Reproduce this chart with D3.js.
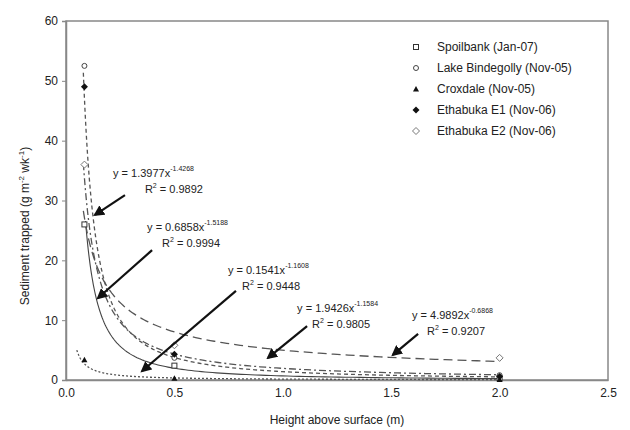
<html>
<head>
<script src="https://d3js.org/d3.v7.min.js"></script>
<style>
  body { margin: 0; background: #fff; }
  text { font-family: "Liberation Sans", Arial, sans-serif; fill: #222; }
</style>
</head>
<body>
<svg id="chart" width="630" height="430"></svg>
<script>
// data
const sites = ["Spoilbank (Jan-07)", "Lake Bindegolly (Nov-05)", "Croxdale (Nov-05)",
               "Ethabuka E1 (Nov-06)", "Ethabuka E2 (Nov-06)"];
const heights = [0.085, 0.5, 2.0];
const spoilbank = [26, 2.4, 0.3];
const lakeBindegolly = [52.5, 3.7, 0.8];
const croxdale = [3.4, 0.3, 0.1];
const ethabukaE1 = [49, 4.3, 0.6];
const ethabukaE2 = [36, 5.8, 3.7];
const seriesValues = [spoilbank, lakeBindegolly, croxdale, ethabukaE1, ethabukaE2];

// power trendlines y = a x^b as printed on the chart
const trendA = [0.6858, 1.3977, 0.1541, 1.9426, 4.9892];
const trendB = [-1.5188, -1.4268, -1.1608, -1.1584, -0.6868];
const trendR2 = ["0.9994", "0.9892", "0.9448", "0.9805", "0.9207"];
const trendStart = [0.09, 0.08, 0.05, 0.08, 0.08];
const trendEnd = 2.0;

const xTicks = [0, 0.5, 1.0, 1.5, 2.0, 2.5];
const yTicks = [0, 10, 20, 30, 40, 50, 60];

// styling per series
const markers = ["square", "circle", "triangle", "diamondFill", "diamond"];
const dashes = [null, "4,3", "2,2", "7,3,2,3", "9,5"];

// annotation layout (data coords): series index, label line 1, line 2, arrow from, arrow to
const notes = [
  {s: 1, l1: [0.217, 34.6], l2: [0.364, 31.9], from: [0.272, 30.9], to: [0.134, 27.6]},
  {s: 0, l1: [0.374, 25.6], l2: [0.443, 22.9], from: [0.397, 21.7], to: [0.148, 13.7]},
  {s: 2, l1: [0.747, 18.4], l2: [0.812, 15.7], from: [0.784, 14.9], to: [0.351, 1.5]},
  {s: 3, l1: [1.066, 12.0], l2: [1.135, 9.4], from: [1.112, 9.0], to: [0.932, 3.7]},
  {s: 4, l1: [1.596, 10.9], l2: [1.665, 8.2], from: [1.624, 7.7], to: [1.508, 4.2]}
];

const svg = d3.select("#chart");
const margin = {top: 21, right: 22, bottom: 50, left: 66};
const W = 630, H = 430;

const x = d3.scaleLinear().domain([0, 2.5]).range([margin.left, W - margin.right]);
const y = d3.scaleLinear().domain([0, 60]).range([H - margin.bottom, margin.top]);

// frame
svg.append("rect")
  .attr("x", x(0)).attr("y", y(60))
  .attr("width", x(2.5) - x(0)).attr("height", y(0) - y(60))
  .attr("fill", "none").attr("stroke", "#888").attr("stroke-width", 1.5);

// axes
const xAxis = d3.axisBottom(x).tickValues(xTicks).tickFormat(d3.format(".1f")).tickSize(0).tickPadding(8);
const yAxis = d3.axisLeft(y).tickValues(yTicks).tickSize(4).tickPadding(4);

svg.append("g").attr("transform", `translate(0,${y(0)})`).call(xAxis)
  .call(g => g.select(".domain").attr("stroke", "#888").attr("stroke-width", 1.5))
  .selectAll("text").attr("font-size", 12).attr("fill", "#333")
  .attr("font-family", "Liberation Sans, Arial, sans-serif");
svg.append("g").attr("transform", `translate(${x(0)},0)`).call(yAxis)
  .call(g => g.select(".domain").attr("stroke", "#888").attr("stroke-width", 1.5))
  .call(g => g.selectAll(".tick line").attr("stroke", "#888"))
  .selectAll("text").attr("font-size", 12).attr("fill", "#333")
  .attr("font-family", "Liberation Sans, Arial, sans-serif");

// axis titles
svg.append("text")
  .attr("x", x(1.25)).attr("y", 424)
  .attr("text-anchor", "middle").attr("font-size", 12)
  .text("Height above surface (m)");

const yl = svg.append("text")
  .attr("transform", `translate(29,226) rotate(-90)`)
  .attr("text-anchor", "middle").attr("font-size", 12);
yl.append("tspan").text("Sediment trapped (g m");
yl.append("tspan").attr("dy", -5).attr("font-size", 8).text("-2");
yl.append("tspan").attr("dy", 5).text(" wk");
yl.append("tspan").attr("dy", -5).attr("font-size", 8).text("-1");
yl.append("tspan").attr("dy", 5).text(")");

// trendlines
const line = d3.line().x(d => x(d[0])).y(d => y(d[1]));
sites.forEach((s, i) => {
  const pts = [];
  const n = 120;
  for (let k = 0; k <= n; k++) {
    // log-spaced samples so the steep part is smooth
    const xv = Math.exp(Math.log(trendStart[i]) + (Math.log(trendEnd) - Math.log(trendStart[i])) * k / n);
    pts.push([xv, trendA[i] * Math.pow(xv, trendB[i])]);
  }
  svg.append("path")
    .datum(pts)
    .attr("fill", "none")
    .attr("stroke", i === 0 ? "#444" : "#555")
    .attr("stroke-width", i === 0 ? 1.1 : 1.3)
    .attr("stroke-dasharray", dashes[i])
    .attr("d", line);
});

// markers
function drawMarker(g, type, cx, cy, r) {
  if (type === "square") {
    g.append("rect").attr("x", cx - r).attr("y", cy - r).attr("width", 2 * r).attr("height", 2 * r)
      .attr("fill", "#fff").attr("stroke", "#333").attr("stroke-width", 1);
  } else if (type === "circle") {
    g.append("circle").attr("cx", cx).attr("cy", cy).attr("r", r)
      .attr("fill", "#fff").attr("stroke", "#444").attr("stroke-width", 1);
  } else if (type === "triangle") {
    g.append("path").attr("d", `M${cx},${cy - r - 0.5}L${cx + r + 0.5},${cy + r}L${cx - r - 0.5},${cy + r}Z`)
      .attr("fill", "#111");
  } else if (type === "diamondFill") {
    g.append("path").attr("d", `M${cx},${cy - r - 1}L${cx + r + 1},${cy}L${cx},${cy + r + 1}L${cx - r - 1},${cy}Z`)
      .attr("fill", "#111");
  } else {
    g.append("path").attr("d", `M${cx},${cy - r - 1}L${cx + r + 1},${cy}L${cx},${cy + r + 1}L${cx - r - 1},${cy}Z`)
      .attr("fill", "#fff").attr("stroke", "#777").attr("stroke-width", 1);
  }
}

const pointsG = svg.append("g");
seriesValues.forEach((vals, i) => {
  vals.forEach((v, j) => drawMarker(pointsG, markers[i], x(heights[j]), y(v), 2.5));
});

// arrows
svg.append("defs").append("marker")
  .attr("id", "head").attr("viewBox", "0 0 10 10")
  .attr("refX", 8).attr("refY", 5)
  .attr("markerWidth", 5).attr("markerHeight", 5)
  .attr("orient", "auto")
  .append("path").attr("d", "M0,0L10,5L0,10Z").attr("fill", "#111");

notes.forEach(n => {
  svg.append("line")
    .attr("x1", x(n.from[0])).attr("y1", y(n.from[1]))
    .attr("x2", x(n.to[0])).attr("y2", y(n.to[1]))
    .attr("stroke", "#111").attr("stroke-width", 2.2)
    .attr("marker-end", "url(#head)");

  const t1 = svg.append("text")
    .attr("x", x(n.l1[0])).attr("y", y(n.l1[1]) + 4)
    .attr("font-size", 11);
  t1.append("tspan").text(`y = ${trendA[n.s].toFixed(4)}x`);
  t1.append("tspan").attr("dy", -6).attr("font-size", 7).text(trendB[n.s].toFixed(4));

  const t2 = svg.append("text")
    .attr("x", x(n.l2[0])).attr("y", y(n.l2[1]) + 4)
    .attr("font-size", 11);
  t2.append("tspan").text("R");
  t2.append("tspan").attr("dy", -5).attr("font-size", 7).text("2");
  t2.append("tspan").attr("dy", 5).text(` = ${trendR2[n.s]}`);
});

// legend
const legend = svg.append("g");
sites.forEach((s, i) => {
  const ly = 47 + i * 21;
  drawMarker(legend, markers[i], 416, ly, 2.5);
  legend.append("text")
    .attr("x", 437).attr("y", ly + 4)
    .attr("font-size", 12)
    .text(s);
});
</script>
</body>
</html>
